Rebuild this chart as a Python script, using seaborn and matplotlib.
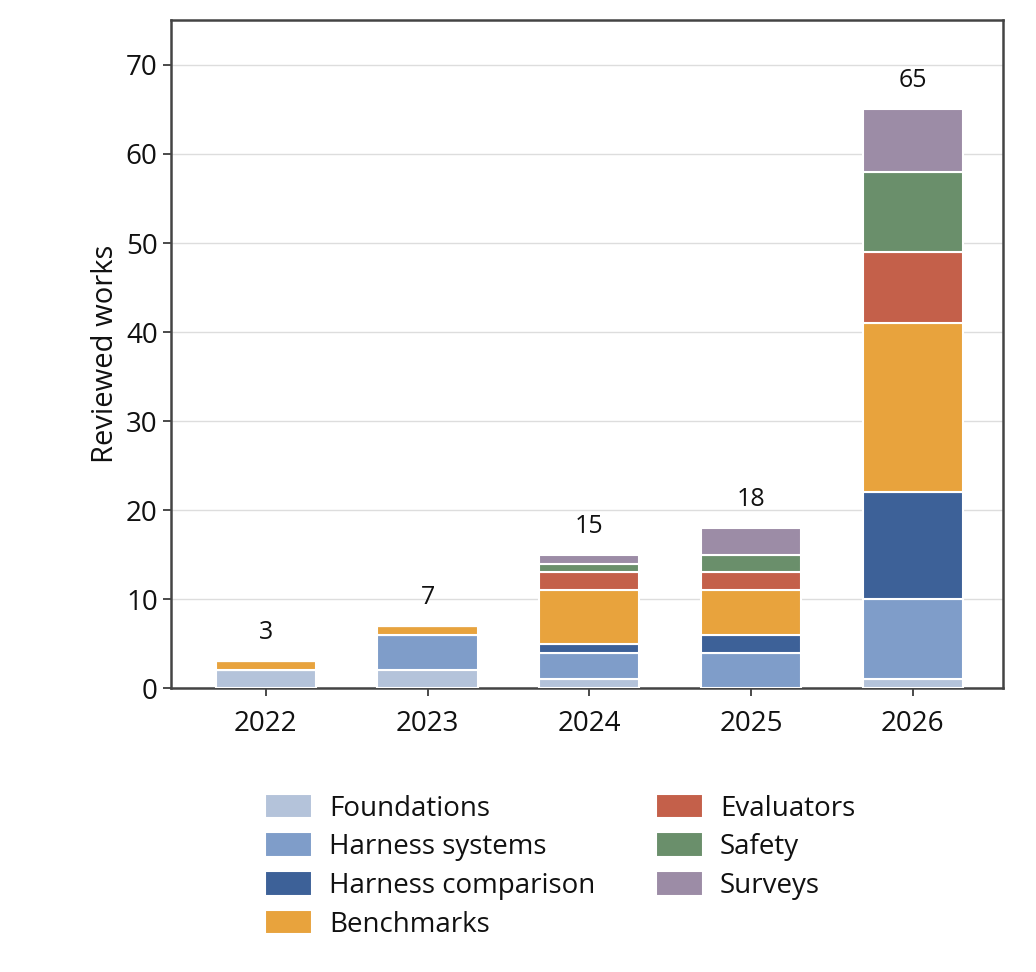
import matplotlib
matplotlib.use("Agg")
import matplotlib.pyplot as plt
import seaborn as sns
import pandas as pd

years = ["2022", "2023", "2024", "2025", "2026"]
categories = ["Foundations", "Harness systems", "Harness comparison", "Benchmarks", "Evaluators", "Safety", "Surveys"]
foundations = [2, 2, 1, 0, 1]
harness_systems = [0, 4, 3, 4, 9]
harness_comparison = [0, 0, 1, 2, 12]
benchmarks = [1, 1, 6, 5, 19]
evaluators = [0, 0, 2, 2, 8]
safety = [0, 0, 1, 2, 9]
surveys = [0, 0, 1, 3, 7]
colors = ["#b4c3da", "#7f9dc9", "#3d6198", "#e8a33d", "#c4604a", "#6a8f6b", "#9c8ca6"]

series = [foundations, harness_systems, harness_comparison, benchmarks, evaluators, safety, surveys]
rows = []
for cat, vals in zip(categories, series):
    for y, v in zip(years, vals):
        rows.append({"year": y, "category": cat, "count": v})
df = pd.DataFrame(rows)

sns.set_theme(style="white")
plt.rcParams['font.family'] = ['Open Sans', 'DejaVu Sans']
plt.rcParams['text.color'] = '#111111'
plt.rcParams['axes.labelcolor'] = '#111111'
plt.rcParams['xtick.color'] = '#111111'
plt.rcParams['ytick.color'] = '#111111'

fig = plt.figure(figsize=(10.36, 9.72), dpi=100)
ax = fig.add_axes([0.165, 0.292, 0.803, 0.687])

bottom = [0] * len(years)
for cat, vals, c in zip(categories, series, colors):
    ax.bar(years, vals, bottom=bottom, color=c, edgecolor="white", linewidth=1.5, width=0.62, label=cat, zorder=3)
    bottom = [b + v for b, v in zip(bottom, vals)]
for i, t in enumerate(bottom):
    ax.text(i, t + 1.8, str(t), ha="center", va="bottom", fontsize=18)

ax.set_ylim(0, 75)
ax.set_xlim(-0.586, 4.556)
ax.set_yticks(range(0, 71, 10))
ax.yaxis.grid(True, color="#dddddd", linewidth=1, zorder=0)
ax.set_ylabel("Reviewed works", fontsize=21)
ax.tick_params(axis="both", labelsize=20, length=6, left=True, bottom=True, color="#333333")
ax.tick_params(axis="x", pad=10)
for s in ax.spines.values():
    s.set_color("#444444")
    s.set_linewidth(1.8)

h, l = ax.get_legend_handles_labels()
fig.legend(h, l, ncol=2, loc="upper left",
           bbox_to_anchor=(0.245, 0.195), frameon=False, fontsize=20,
           handlelength=1.7, handleheight=1.0, handletextpad=0.6,
           columnspacing=2.2, labelspacing=0.35, borderaxespad=0)

fig.savefig("out.png", dpi=100)
